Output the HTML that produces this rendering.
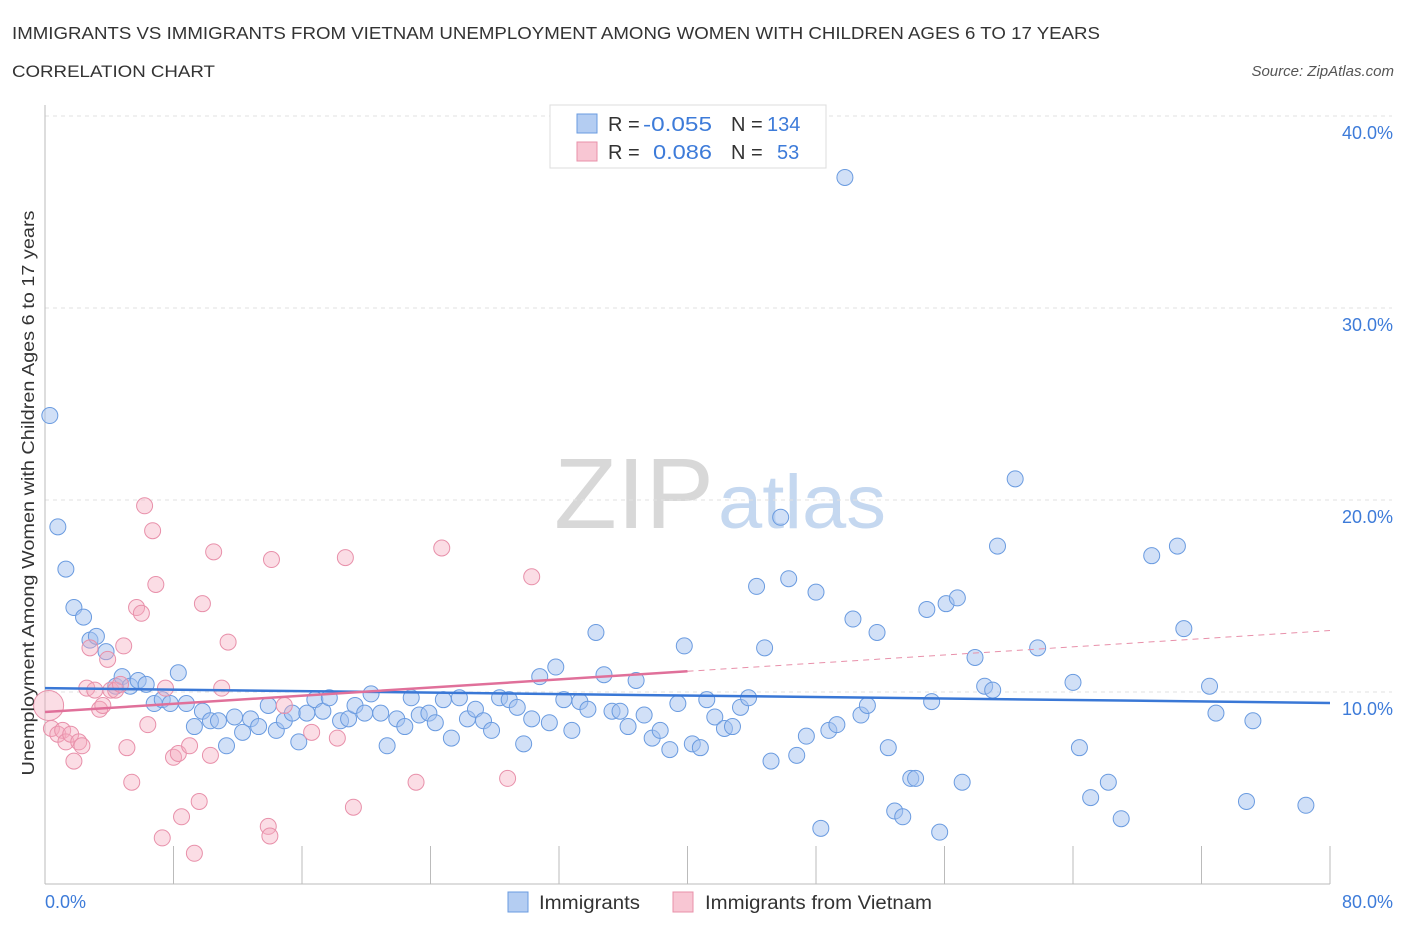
<!DOCTYPE html>
<html><head><meta charset="utf-8">
<style>
body{margin:0;background:#fff;font-family:"Liberation Sans",sans-serif;}
svg text{font-family:"Liberation Sans",sans-serif;}
</style></head>
<body>
<svg id="chart" width="1406" height="930" viewBox="0 0 1406 930" xmlns="http://www.w3.org/2000/svg">
<text x="12" y="39" font-size="17.5" fill="#333" textLength="1088" lengthAdjust="spacingAndGlyphs">IMMIGRANTS VS IMMIGRANTS FROM VIETNAM UNEMPLOYMENT AMONG WOMEN WITH CHILDREN AGES 6 TO 17 YEARS</text>
<text x="12" y="77" font-size="17" fill="#333" textLength="203" lengthAdjust="spacingAndGlyphs">CORRELATION CHART</text>
<text x="1394" y="76" font-size="15" fill="#555" font-style="italic" text-anchor="end">Source: ZipAtlas.com</text>
<g>
<text x="554" y="528" font-size="100" fill="#d8d8d8" font-family="Liberation Serif,serif" textLength="160" lengthAdjust="spacingAndGlyphs">ZIP</text>
<text x="718" y="528" font-size="76" fill="#c5d8f0" textLength="168" lengthAdjust="spacingAndGlyphs">atlas</text>
</g>
<g id="grid"></g>
<g id="axes"></g>
<g id="pts"></g>
<g id="trend"></g>
<text transform="translate(34,493) rotate(-90)" font-size="17.5" fill="#333" text-anchor="middle" textLength="565" lengthAdjust="spacingAndGlyphs">Unemployment Among Women with Children Ages 6 to 17 years</text>
<g>
<rect x="550" y="105" width="276" height="63" fill="#fff" stroke="#ddd"/>
<rect x="577" y="114" width="20" height="19" fill="#b4cdf2" stroke="#6a9be0"/>
<text x="608" y="131" font-size="20" fill="#333">R =</text>
<text x="643" y="131" font-size="20" fill="#3d7bd9" textLength="69" lengthAdjust="spacingAndGlyphs">-0.055</text>
<text x="731" y="131" font-size="20" fill="#333">N =</text>
<text x="767" y="131" font-size="20" fill="#3d7bd9">134</text>
<rect x="577" y="142" width="20" height="19" fill="#f8c6d3" stroke="#e890aa"/>
<text x="608" y="159" font-size="20" fill="#333">R =</text>
<text x="653" y="159" font-size="20" fill="#3d7bd9" textLength="59" lengthAdjust="spacingAndGlyphs">0.086</text>
<text x="731" y="159" font-size="20" fill="#333">N =</text>
<text x="777" y="159" font-size="20" fill="#3d7bd9">53</text>
</g>
<g>
<rect x="508" y="892" width="20" height="20" fill="#b4cdf2" stroke="#6a9be0"/>
<text x="539" y="909" font-size="19" fill="#333" textLength="101" lengthAdjust="spacingAndGlyphs">Immigrants</text>
<rect x="673" y="892" width="20" height="20" fill="#f8c6d3" stroke="#e890aa"/>
<text x="705" y="909" font-size="19" fill="#333" textLength="227" lengthAdjust="spacingAndGlyphs">Immigrants from Vietnam</text>
</g>
</svg>
<script>
const xTicks=[0,10,20,30,40,50,60,70,80];
const yTicks=[10,20,30,40];
const yTickLabels=["10.0%","20.0%","30.0%","40.0%"];
const xEndLabels=["0.0%","80.0%"];
const blueX=[0.3,0.8,1.3,1.8,2.4,2.8,3.2,3.8,4.4,4.8,5.3,5.8,6.3,6.8,7.3,7.8,8.3,8.8,9.3,9.8,10.3,10.8,11.3,11.8,12.3,12.8,13.3,13.9,14.4,14.9,15.4,15.8,16.3,16.8,17.3,17.7,18.4,18.9,19.3,19.9,20.3,20.9,21.3,21.9,22.4,22.8,23.3,23.9,24.3,24.8,25.3,25.8,26.3,26.8,27.3,27.8,28.3,28.9,29.4,29.8,30.3,30.8,31.4,31.8,32.3,32.8,33.3,33.8,34.3,34.8,35.3,35.8,36.3,36.8,37.3,37.8,38.3,38.9,39.4,39.8,40.3,40.8,41.2,41.7,42.3,42.8,43.3,43.8,44.3,44.8,45.2,45.8,46.3,46.8,47.4,48.0,48.3,48.8,49.3,49.8,50.3,50.8,51.2,51.8,52.5,52.9,53.4,53.9,54.2,54.9,55.2,55.7,56.1,56.8,57.1,57.9,58.5,59.0,59.3,60.4,61.8,64.0,64.4,65.1,66.2,67.0,68.9,70.5,70.9,72.5,72.9,74.8,75.2,78.5];
const blueY=[24.4,18.6,16.4,14.4,13.9,12.7,12.9,12.1,10.3,10.8,10.3,10.6,10.4,9.4,9.6,9.4,11.0,9.4,8.2,9.0,8.5,8.5,7.2,8.7,7.9,8.6,8.2,9.3,8.0,8.5,8.9,7.4,8.9,9.6,9.0,9.7,8.5,8.6,9.3,8.9,9.9,8.9,7.2,8.6,8.2,9.7,8.8,8.9,8.4,9.6,7.6,9.7,8.6,9.1,8.5,8.0,9.7,9.6,9.2,7.3,8.6,10.8,8.4,11.3,9.6,8.0,9.5,9.1,13.1,10.9,9.0,9.0,8.2,10.6,8.8,7.6,8.0,7.0,9.4,12.4,7.3,7.1,9.6,8.7,8.1,8.2,9.2,9.7,15.5,12.3,6.4,19.1,15.9,6.7,7.7,15.2,2.9,8.0,8.3,36.8,13.8,8.8,9.3,13.1,7.1,3.8,3.5,5.5,5.5,14.3,9.5,2.7,14.6,14.9,5.3,11.8,10.3,10.1,17.6,21.1,12.3,10.5,7.1,4.5,5.3,3.4,17.1,17.6,13.3,10.3,8.9,4.3,8.5,4.1];
const pinkX=[0.4,0.8,1.1,1.3,1.6,1.8,2.1,2.3,2.6,2.8,3.1,3.4,3.6,3.9,4.1,4.4,4.7,4.9,5.1,5.4,5.7,6.0,6.2,6.4,6.7,6.9,7.3,7.5,8.0,8.3,8.5,9.0,9.3,9.6,9.8,10.3,10.5,11.0,11.4,13.9,14.0,14.1,14.9,16.6,18.2,18.7,19.2,23.1,24.7,28.8,30.3];
const pinkY=[8.1,7.8,8.0,7.4,7.8,6.4,7.4,7.2,10.2,12.3,10.1,9.1,9.3,11.7,10.1,10.1,10.4,12.4,7.1,5.3,14.4,14.1,19.7,8.3,18.4,15.6,2.4,10.2,6.6,6.8,3.5,7.2,1.6,4.3,14.6,6.7,17.3,10.2,12.6,3.0,2.5,16.9,9.3,7.9,7.6,17.0,4.0,5.3,17.5,5.5,16.0];
const pinkBigX=[0.1], pinkBigY=[9.3];
const blueTrend=[10.2,9.43];
const pinkTrend=[8.96,13.2];
const pinkSolidEnd=40;

const NS="http://www.w3.org/2000/svg";
const X0=45,X1=1330,Y0=884,PXY=19.2;
const sx=v=>X0+(X1-X0)*v/80;
const sy=v=>Y0-v*PXY;
function mk(tag,attrs,parent){const e=document.createElementNS(NS,tag);for(const k in attrs)e.setAttribute(k,attrs[k]);parent.appendChild(e);return e;}
const grid=document.getElementById('grid'),axes=document.getElementById('axes'),pts=document.getElementById('pts'),trend=document.getElementById('trend');
yTicks.forEach((t,i)=>{
 const l=mk('line',{x1:X0,x2:1392,y1:sy(t),y2:sy(t),stroke:'#e2e2e2','stroke-dasharray':'4,4'},grid);
 
 
 const tx=mk('text',{x:1393,y:sy(t)+23,'font-size':18,fill:'#3d7bd9','text-anchor':'end'},grid);
 tx.textContent=yTickLabels[i];
 
 
});
const ax=mk('line',{x1:X0,x2:X0,y1:105,y2:Y0,stroke:'#bbb'},axes);


const bx=mk('line',{x1:X0,x2:X1,y1:Y0,y2:Y0,stroke:'#bbb'},axes);


for(let v=0;v<=80;v+=8){
 const t=mk('line',{x1:sx(v),x2:sx(v),y1:Y0-38,y2:Y0,stroke:'#bbb'},axes);
 
 
}
[[0,'start',45],[80,'end',1393]].forEach((a,i)=>{
 const t=mk('text',{x:a[2],y:908,'font-size':18,fill:'#3d7bd9','text-anchor':a[1]},axes);
 t.textContent=xEndLabels[i];
 
 
});
pinkBigX.forEach((x,i)=>{
 const c=mk('circle',{cx:sx(x)+2,cy:sy(pinkBigY[i]),r:15,fill:'rgba(244,170,190,0.4)',stroke:'#e890aa','stroke-width':1},pts);
 
 
});
blueX.forEach((x,i)=>{
 const c=mk('circle',{cx:sx(x),cy:sy(blueY[i]),r:8,fill:'rgba(164,194,240,0.5)',stroke:'#6a9be0','stroke-width':1},pts);
 
 
});
pinkX.forEach((x,i)=>{
 const c=mk('circle',{cx:sx(x),cy:sy(pinkY[i]),r:8,fill:'rgba(244,170,190,0.4)',stroke:'#e890aa','stroke-width':1},pts);
 
 
});
const bl=mk('line',{x1:sx(0),y1:sy(blueTrend[0]),x2:sx(80),y2:sy(blueTrend[1]),stroke:'#3a78d6','stroke-width':2.5},trend);


const pm=pinkTrend[0]+(pinkTrend[1]-pinkTrend[0])*pinkSolidEnd/80;
const pl=mk('line',{x1:sx(0),y1:sy(pinkTrend[0]),x2:sx(pinkSolidEnd),y2:sy(pm),stroke:'#e0709a','stroke-width':2.5},trend);


const pd=mk('line',{x1:sx(pinkSolidEnd),y1:sy(pm),x2:sx(80),y2:sy(pinkTrend[1]),stroke:'#e890aa','stroke-width':1,'stroke-dasharray':'6,5'},trend);


</script>
</body></html>
